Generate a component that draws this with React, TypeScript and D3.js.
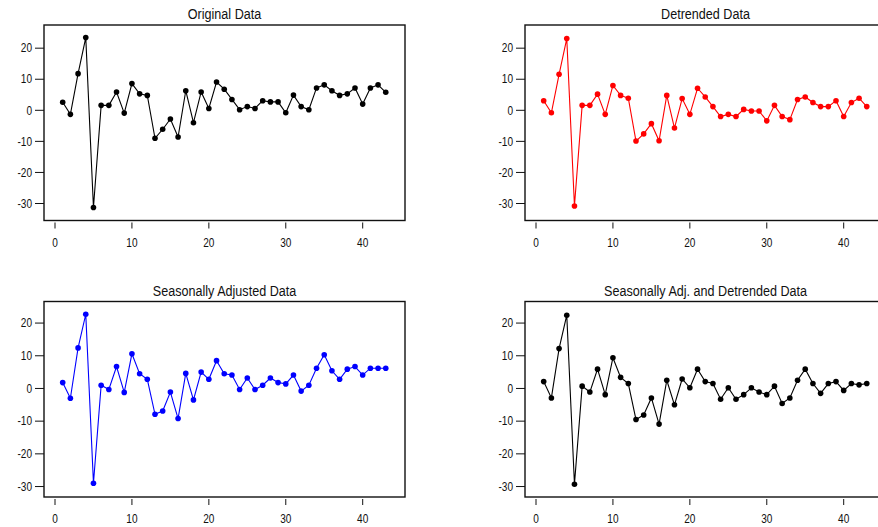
import React from "react";
import * as d3 from "d3";

// values (index 1..43)
const original = [
  2.6, -1.3, 11.8, 23.4, -31.3, 1.6, 1.6, 5.9, -0.9, 8.6, 5.3, 4.8, -9.0, -6.1, -2.8,
  -8.6, 6.3, -4.0, 5.9, 0.6, 9.1, 6.8, 3.5, 0.2, 1.2, 0.6, 3.1, 2.7, 2.7, -0.8, 4.9,
  1.2, 0.2, 7.2, 8.2, 6.3, 4.8, 5.3, 7.2, 2.0, 7.2, 8.2, 5.8,
];
const detrended = [
  3.1, -0.8, 11.6, 23.1, -30.8, 1.6, 1.6, 5.2, -1.3, 8.0, 4.8, 3.9, -9.9, -7.6, -4.3,
  -9.8, 4.8, -5.7, 3.8, -1.3, 7.1, 4.3, 1.2, -2.0, -1.3, -2.0, 0.3, -0.2, -0.2, -3.4,
  1.6, -2.0, -3.0, 3.5, 4.3, 2.5, 1.2, 1.2, 3.1, -2.0, 2.5, 3.9, 1.2,
];
const seasAdj = [
  1.8, -3.0, 12.4, 22.7, -29.0, 1.0, -0.3, 6.7, -1.2, 10.6, 4.5, 2.8, -7.9, -6.9, -1.1,
  -9.2, 4.6, -3.5, 5.0, 2.8, 8.5, 4.5, 4.1, -0.3, 3.2, -0.3, 1.0, 3.2, 1.8, 1.4, 4.1,
  -0.8, 1.0, 6.2, 10.3, 5.4, 2.8, 5.9, 6.7, 4.1, 6.2, 6.2, 6.2,
];
const seasAdjDetrended = [
  2.1, -2.9, 12.2, 22.4, -29.3, 0.7, -1.1, 5.9, -1.9, 9.4, 3.4, 1.5, -9.5, -8.1, -2.9,
  -10.9, 2.5, -5.0, 2.9, 0.2, 5.9, 2.1, 1.5, -3.3, 0.2, -3.3, -1.9, 0.2, -1.1, -1.9,
  0.7, -4.6, -2.9, 2.5, 5.9, 1.5, -1.5, 1.5, 2.1, -0.6, 1.5, 1.1, 1.5,
];

const titles = [
  "Original Data",
  "Detrended Data",
  "Seasonally Adjusted Data",
  "Seasonally Adj. and Detrended Data",
];
const seriesList = [original, detrended, seasAdj, seasAdjDetrended];
const colors = ["#000000", "#ff0000", "#0000ff", "#000000"];
const xTicks = [0, 10, 20, 30, 40];
const yTicks = [-30, -20, -10, 0, 10, 20];

const FONT = "'Liberation Sans', Arial, sans-serif";

// condensed text, like the narrow font in the original
function NarrowText({ x, y, anchor, size, children }: any) {
  return (
    <text
      transform={`translate(${x},${y}) scale(0.84,1)`}
      textAnchor={anchor}
      dy="0.35em"
      fontSize={size}
      fontFamily={FONT}
      fill="#111"
    >
      {children}
    </text>
  );
}

function Panel({ idx, left, top, yDomain }: { idx: number; left: number; top: number; yDomain: [number, number] }) {
  const w = 361;
  const h = 195.5;
  const data = seriesList[idx];
  const color = colors[idx];
  const x = d3.scaleLinear().domain([-1.43, 45.5]).range([left, left + w]);
  const y = d3.scaleLinear().domain(yDomain).range([top + h, top]);
  const line = d3
    .line<number>()
    .x((_, i) => x(i + 1))
    .y((d) => y(d));
  return (
    <g>
      <NarrowText x={left + w / 2} y={top - 11} anchor="middle" size={15}>
        {titles[idx]}
      </NarrowText>
      <rect x={left} y={top} width={w} height={h} fill="none" stroke="#111" strokeWidth={1.4} />
      {yTicks.map((t) => (
        <g key={"y" + t}>
          <line x1={left - 9} x2={left} y1={y(t)} y2={y(t)} stroke="#111" strokeWidth={1} />
          <NarrowText x={left - 12} y={y(t)} anchor="end" size={12}>
            {t}
          </NarrowText>
        </g>
      ))}
      {xTicks.map((t) => (
        <g key={"x" + t}>
          <line x1={x(t)} x2={x(t)} y1={top + h + 2} y2={top + h + 8} stroke="#111" strokeWidth={1} />
          <NarrowText x={x(t)} y={top + h + 22} anchor="middle" size={12}>
            {t}
          </NarrowText>
        </g>
      ))}
      <path d={line(data) || ""} fill="none" stroke={color} strokeWidth={1.1} />
      {data.map((d, i) => (
        <circle key={i} cx={x(i + 1)} cy={y(d)} r={2.8} fill={color} />
      ))}
    </g>
  );
}

export default function App() {
  const topDomain: [number, number] = [-35.47, 27.46];
  const botDomain: [number, number] = [-33.2, 26.6];
  return (
    <svg width={878} height={527} style={{ position: "absolute", left: 0, top: 0, background: "#fff" }}>
      <rect width={878} height={527} fill="#fff" />
      <Panel idx={0} left={44} top={25} yDomain={topDomain} />
      <Panel idx={1} left={525} top={25} yDomain={topDomain} />
      <Panel idx={2} left={44} top={301.5} yDomain={botDomain} />
      <Panel idx={3} left={525} top={301.5} yDomain={botDomain} />
    </svg>
  );
}
